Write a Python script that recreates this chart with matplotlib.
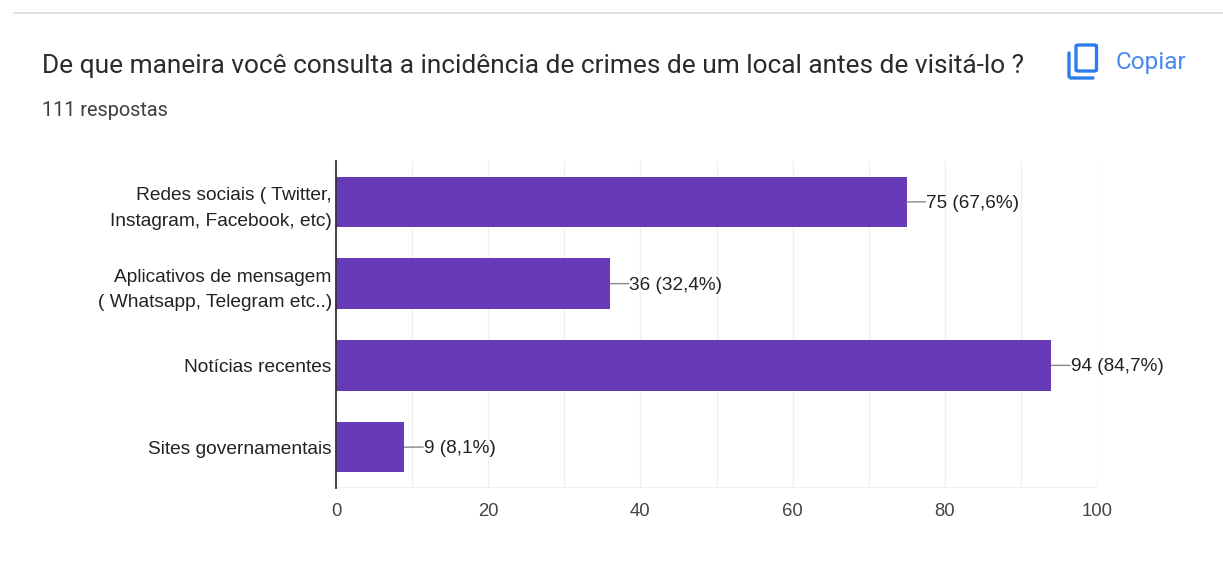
#!/usr/bin/env python3
# Horizontal bar chart of the survey answers, with the form header above it.

import matplotlib
matplotlib.use('Agg')
import matplotlib.pyplot as plt
from matplotlib.lines import Line2D
from matplotlib.patches import FancyBboxPatch

W, H = 1223, 577

title = 'De que maneira você consulta a incidência de crimes de um local antes de visitá-lo ?'
subtitle = '111 respostas'
categories = ['Redes sociais ( Twitter,\nInstagram, Facebook, etc)',
              'Aplicativos de mensagem\n( Whatsapp, Telegram etc..)',
              'Notícias recentes',
              'Sites governamentais']
counts = [75, 36, 94, 9]
percents = ['67,6%', '32,4%', '84,7%', '8,1%']
ticks = [0, 20, 40, 60, 80, 100]
grid = [10, 20, 30, 40, 50, 60, 70, 80, 90, 100]

PURPLE = '#673ab7'
BLUE = '#4a88ee'
ICON_BLUE = '#2b7de9'
DARK = '#222222'


def fx(px):
    return px / W


def fy(px):
    return 1 - px / H


fig = plt.figure(figsize=(W / 100, H / 100), dpi=100, facecolor='white')

# header
fig.add_artist(Line2D([fx(14), 1], [fy(13), fy(13)], color='#dadce0', lw=1.2))
fig.text(fx(42), fy(66), title, family='Roboto', fontsize=18.94, color='#2a2b2e',
         va='center', ha='left')
fig.text(fx(42), fy(111), subtitle, family='Roboto', fontsize=14.3, color='#3c4043',
         va='center', ha='left')
fig.text(fx(1116), fy(62), 'Copiar', family='Roboto', fontsize=17.6, color=BLUE,
         va='center', ha='left')

# copy icon: front sheet plus the L-shaped edge of the sheet behind it
sheet = FancyBboxPatch((fx(1076), fy(71)), fx(20.5), 26 / H,
                       boxstyle='round,pad=0,rounding_size=0.002',
                       transform=fig.transFigure, fill=False, ec=ICON_BLUE, lw=2.4)
fig.add_artist(sheet)
fig.add_artist(Line2D([fx(1069), fx(1069), fx(1070.5), fx(1093)],
                      [fy(53), fy(76.5), fy(78), fy(78)],
                      color=ICON_BLUE, lw=2.4, solid_capstyle='round'))

# chart
ax = fig.add_axes([fx(336), fy(488), fx(1097 - 336), (488 - 161) / H])
positions = list(range(len(categories)))
ax.barh(positions, counts, height=0.615, color=PURPLE, zorder=3)
ax.set_xlim(0, 100)
ax.set_ylim(3.5, -0.5)

ax.set_yticks(positions)
ax.set_yticklabels(categories, family='Liberation Sans', fontsize=13.8, color=DARK,
                   linespacing=1.68)
ax.set_xticks(ticks)
ax.set_xticklabels([str(t) for t in ticks], family='Liberation Sans', fontsize=13.3,
                   color='#444444')
ax.tick_params(axis='both', length=0, pad=3)
ax.tick_params(axis='x', pad=10.5)

for g in grid:
    ax.axvline(g, color='#f0f0f0', lw=1, zorder=1)
ax.axhline(3.5, color='#efefef', lw=1.5, zorder=1)

for side in ['top', 'right', 'bottom']:
    ax.spines[side].set_visible(False)
ax.spines['left'].set_color('#333333')
ax.spines['left'].set_linewidth(1.3)
ax.spines['left'].set_zorder(4)

# value labels with a short leader line from the bar end
for pos, count, pct in zip(positions, counts, percents):
    ax.annotate('%d (%s)' % (count, pct), xy=(count, pos), xytext=(14, -1),
                textcoords='offset points', va='center', ha='left',
                family='Liberation Sans', fontsize=13.7, color=DARK, zorder=5)
    ax.annotate('', xy=(count, pos), xytext=(13.5, 0), textcoords='offset points',
                arrowprops=dict(arrowstyle='-', color='#888888', lw=1,
                                shrinkA=0, shrinkB=0))

fig.savefig('out.png', dpi=100)
